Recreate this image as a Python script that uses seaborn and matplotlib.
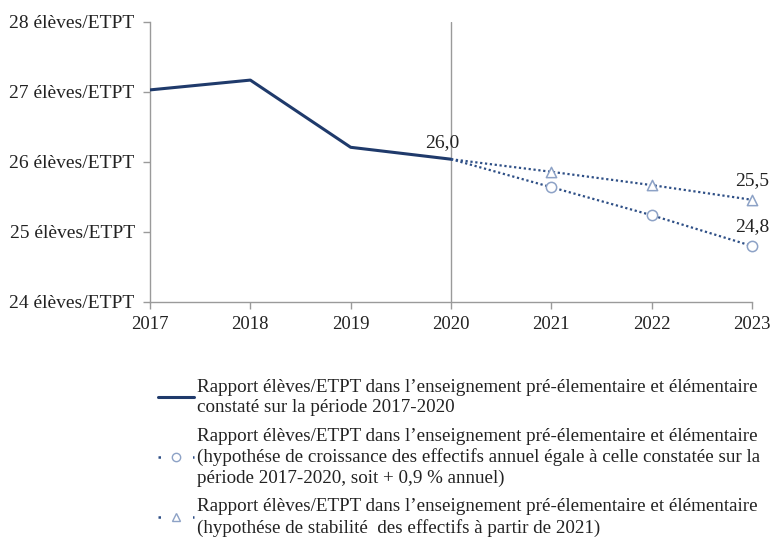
import matplotlib
matplotlib.use("Agg")
import matplotlib.pyplot as plt
from matplotlib.lines import Line2D
import seaborn as sns
import pandas as pd

sns.set_theme(style="white")
plt.rcParams["font.family"] = ["Liberation Serif", "DejaVu Serif"]

# Observed ratio 2017-2020
years_obs = [2017, 2018, 2019, 2020]
ratio_obs = [27.03, 27.17, 26.21, 26.04]

# Projections from 2020
years_proj = [2020, 2021, 2022, 2023]
ratio_growth = [26.04, 25.64, 25.24, 24.80]   # enrolment growth +0.9 %/year
ratio_stable = [26.04, 25.86, 25.67, 25.46]   # stable enrolment from 2021

y_ticks = [24, 25, 26, 27, 28]
y_tick_labels = [f"{v} élèves/ETPT" for v in y_ticks]

legend_labels = [
    "Rapport élèves/ETPT dans l’enseignement pré-élementaire et élémentaire\n"
    "constaté sur la période 2017-2020",
    "Rapport élèves/ETPT dans l’enseignement pré-élementaire et élémentaire\n"
    "(hypothése de croissance des effectifs annuel égale à celle constatée sur la\n"
    "période 2017-2020, soit + 0,9 % annuel)",
    "Rapport élèves/ETPT dans l’enseignement pré-élementaire et élémentaire\n"
    "(hypothése de stabilité  des effectifs à partir de 2021)",
]

navy = "#1F3A6B"
dot_col = "#2E4F86"
mk_col = "#8DA2C6"
grey = "#9A9A9A"
txt = "#222222"
fs = 14
fs_leg = 13.7

df_obs = pd.DataFrame({"year": years_obs, "ratio": ratio_obs})
df_g = pd.DataFrame({"year": years_proj, "ratio": ratio_growth})
df_s = pd.DataFrame({"year": years_proj, "ratio": ratio_stable})

fig = plt.figure(figsize=(7.7, 5.4), dpi=100)
ax = fig.add_axes([150 / 770, 1 - 302 / 540, (752 - 150) / 770, (302 - 22) / 540])

ax.axvline(2020, color=grey, lw=1.0, zorder=1)

sns.lineplot(data=df_obs, x="year", y="ratio", ax=ax, color=navy, lw=2.2, zorder=3)
sns.lineplot(data=df_g, x="year", y="ratio", ax=ax, color=dot_col, lw=1.6,
             linestyle=(0, (1, 1.2)), zorder=3)
sns.lineplot(data=df_s, x="year", y="ratio", ax=ax, color=dot_col, lw=1.6,
             linestyle=(0, (1, 1.2)), zorder=3)
ax.scatter(years_proj[1:], ratio_growth[1:], s=55, marker="o", facecolor="white",
           edgecolor=mk_col, linewidth=1.1, zorder=4, clip_on=False)
ax.scatter(years_proj[1:], ratio_stable[1:], s=55, marker="^", facecolor="white",
           edgecolor=mk_col, linewidth=1.1, zorder=4, clip_on=False)

def fr(v):
    return f"{v:.1f}".replace(".", ",")

ax.annotate(fr(ratio_obs[-1]), (years_obs[-1], ratio_obs[-1]), xytext=(-6, 6),
            textcoords="offset points", ha="center", va="bottom", fontsize=fs, color=txt)
ax.annotate(fr(ratio_stable[-1]), (years_proj[-1], ratio_stable[-1]), xytext=(0, 8),
            textcoords="offset points", ha="center", va="bottom", fontsize=fs, color=txt)
ax.annotate(fr(ratio_growth[-1]), (years_proj[-1], ratio_growth[-1]), xytext=(0, 8),
            textcoords="offset points", ha="center", va="bottom", fontsize=fs, color=txt)

ax.set_xlim(2017, 2023)
ax.set_ylim(24, 28)
ax.set_xticks(list(range(2017, 2024)))
ax.set_xticklabels([str(y) for y in range(2017, 2024)], fontsize=13.5, color=txt)
ax.set_yticks(y_ticks)
ax.set_yticklabels(y_tick_labels, fontsize=fs, color=txt)
ax.set_xlabel("")
ax.set_ylabel("")
for s in ["top", "right"]:
    ax.spines[s].set_visible(False)
for s in ["left", "bottom"]:
    ax.spines[s].set_color(grey)
    ax.spines[s].set_linewidth(1.0)
ax.tick_params(axis="both", which="both", direction="out", length=5, width=1.0,
               color=grey, bottom=True, left=True)
ax.tick_params(axis="y", pad=6)
ax.tick_params(axis="x", pad=5)
ax.set_facecolor("white")

# Legend handles: dotted keys show one dot on each side of the marker
dot_key = (0, (1, 5.9))
handles = [
    Line2D([], [], color=navy, lw=2.2),
    Line2D([], [], color=dot_col, lw=1.8, linestyle=dot_key, marker="o",
           markersize=6, markerfacecolor="white", markeredgecolor=mk_col),
    Line2D([], [], color=dot_col, lw=1.8, linestyle=dot_key, marker="^",
           markersize=6, markerfacecolor="white", markeredgecolor=mk_col),
]
leg = fig.legend(handles, legend_labels, loc="upper left",
                 bbox_to_anchor=(158 / 770, 1 - 379 / 540),
                 frameon=False, fontsize=fs_leg, handlelength=1.9, handletextpad=0.15,
                 labelspacing=0.6, borderpad=0, borderaxespad=0, labelcolor=txt)
for t in leg.get_texts():
    t.set_linespacing(1.25)

fig.savefig("out.png", dpi=100, facecolor="white")
